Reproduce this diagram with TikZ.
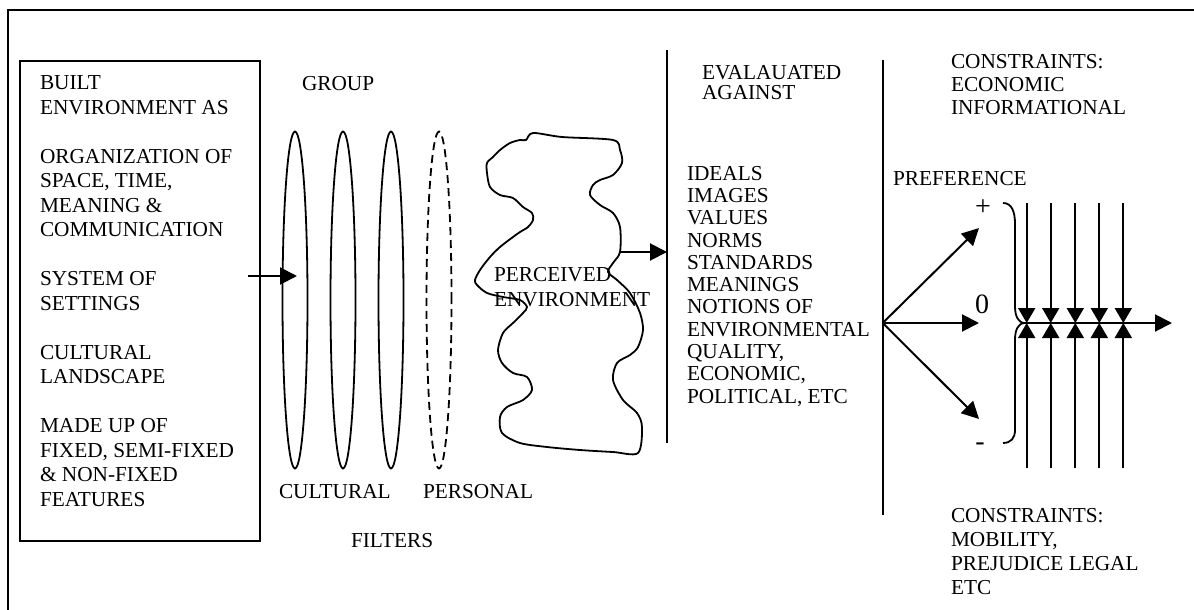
\documentclass[tikz,border=0pt]{standalone}
\usepackage{fontspec}
\setmainfont{Liberation Serif}
\usetikzlibrary{arrows.meta,shapes.geometric}

\begin{document}
\begin{tikzpicture}[x=1pt,y=-1pt,
  txt/.style={inner sep=0pt, outer sep=0pt, anchor=north west, align=left,
              font=\fontsize{21.3}{24.5}\selectfont},
  lbl/.style={inner sep=0pt, outer sep=0pt, anchor=base west,
              font=\fontsize{21.3}{24.5}\selectfont},
  sign/.style={inner sep=0pt, outer sep=0pt, font=\fontsize{28}{30}\selectfont},
  frame/.style={line width=2pt},
  filter/.style={draw, ellipse, line width=1.8pt, minimum width=25pt,
                 minimum height=337pt, inner sep=0pt},
  arr/.style={line width=2pt, -{Triangle[length=17pt,width=17pt]}},
  carr/.style={line width=2pt, -{Triangle[length=15pt,width=17pt]}},
  thin/.style={line width=1.8pt},
]
\useasboundingbox (0,0) rectangle (1194,610);

% outer frame (top and left edges)
\draw[frame] (1194,10) -- (8,10) -- (8,610);

% built environment box
\node[draw, frame, inner sep=0pt, minimum width=240pt, minimum height=480pt,
      anchor=north west] (box) at (19,60) {};
\node[txt] (boxtext) at (40,76) {BUILT\\ENVIRONMENT AS\\[24.5pt]
  ORGANIZATION OF\\SPACE, TIME,\\MEANING \&\\COMMUNICATION\\[24.5pt]
  SYSTEM OF\\SETTINGS\\[24.5pt]
  CULTURAL\\LANDSCAPE\\[24.5pt]
  MADE UP OF\\FIXED, SEMI-FIXED\\\& NON-FIXED\\FEATURES};

% filters
\node[filter] (f1) at (295,300) {};
\node[filter] (f2) at (343,300) {};
\node[filter] (f3) at (391,300) {};
\node[filter, dash pattern=on 8pt off 5pt] (f4) at (439,300) {};
\node[lbl] (group) at (302,90) {GROUP};
\node[lbl] (cultural) at (279,498) {CULTURAL};
\node[lbl] (personal) at (423,498) {PERSONAL};
\node[lbl] (filters) at (351,547) {FILTERS};

\coordinate (bx) at (248,276);
\draw[arr] (bx) -- ([xshift=2pt]bx -| f1.center);

% perceived environment
\draw[line width=1.8pt, line join=round] plot[smooth cycle, tension=0.5] coordinates {
 (526,140) (533,133) (562,137) (613,140) (620,150) (622,163) (613,175) (600,180)
 (593,185) (590,195) (600,205) (613,213) (620,227) (620,252) (613,263) (608,272)
 (617,280) (630,293) (640,313) (643,330) (638,347) (630,355) (617,363) (613,380)
 (623,400) (637,413) (642,427) (638,453) (613,452) (580,450) (547,447) (520,443)
 (502,433) (500,417) (507,407) (523,400) (532,390) (527,377) (513,373) (502,363)
 (498,350) (503,333) (513,323) (523,313) (527,307) (520,300) (503,297) (487,293)
 (477,285) (475,280) (480,270) (490,257) (500,247) (513,237) (520,232) (528,227)
 (533,220) (532,213) (523,207) (513,198) (500,195) (490,187) (487,173) (487,163)
 (493,157) (500,150) (510,143) (520,140)};
\node[txt, font=\fontsize{21.3}{25}\selectfont] (perceived) at (494,267) {PERCEIVED\\ENVIRONMENT};
\coordinate (pe) at (620,252);

% first divider and evaluation criteria
\coordinate (d1t) at (667,50);
\coordinate (d1b) at (667,443);
\draw[thin] (d1t) -- (d1b);
\draw[arr] (pe) -- (pe -| d1t);
\node[txt, font=\fontsize{21.3}{20.3}\selectfont] (evaluated) at (702,65) {EVALAUATED\\AGAINST};
\node[txt, font=\fontsize{21.3}{22.3}\selectfont] (criteria) at (687,166) {IDEALS\\IMAGES\\VALUES\\NORMS\\STANDARDS\\MEANINGS\\NOTIONS OF\\ENVIRONMENTAL\\QUALITY,\\ECONOMIC,\\POLITICAL, ETC};

% second divider and preference
\coordinate (d2t) at (882.7,60);
\coordinate (d2b) at (882.7,515);
\draw[thin] (d2t) -- (d2b);
\node[txt, font=\fontsize{21.3}{23.3}\selectfont] (contop) at (951,54) {CONSTRAINTS:\\ECONOMIC\\INFORMATIONAL};
\node[lbl] (pref) at (893,185.7) {PREFERENCE};

\coordinate (o) at (882.7,323);
\coordinate (pp) at (979,228);
\coordinate (pz) at (979,323);
\coordinate (pm) at (979,419);
\draw[arr] (o) -- (pp);
\draw[arr] (o) -- (pz);
\draw[arr] (o) -- (pm);
\node[sign] (plus) at (983,208) {+};
\node[sign] (zero) at (982,304) {0};
\node[sign] (minus) at (980,447) {-};

% brace
\coordinate (bt) at (1003,203);
\coordinate (btip) at (1025,323);
\coordinate (bb) at (1003,443);
\draw[thin] (bt) .. controls (1012,203) and (1015,212) .. (1015,224) -- (1015,306)
  .. controls (1015,316) and (1018,323) .. (btip)
  .. controls (1018,323) and (1015,330) .. (1015,340) -- (1015,430)
  .. controls (1015,438) and (1011,443) .. (bb);

% outcome line and constraint arrows
\coordinate (out) at (1172,323);
\draw[arr] (btip) -- (out);
\foreach \i/\x in {1/1026.7,2/1050.7,3/1075.3,4/1099.3,5/1123.3}{
  \coordinate (ct\i) at (\x,203);
  \coordinate (cb\i) at (\x,468);
  \draw[carr] (ct\i) -- (ct\i |- out);
  \draw[carr] (cb\i) -- (cb\i |- out);
}
\node[txt, font=\fontsize{21.3}{24}\selectfont] (conbot) at (951,508) {CONSTRAINTS:\\MOBILITY,\\PREJUDICE LEGAL\\ETC};
\end{tikzpicture}
\end{document}
